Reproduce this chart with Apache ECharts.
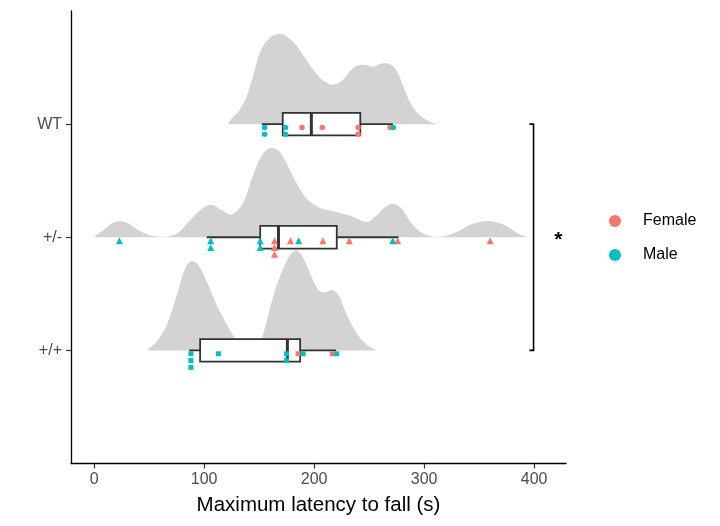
<!DOCTYPE html>
<html><head><meta charset="utf-8">
<script src="https://cdn.jsdelivr.net/npm/echarts@6/dist/echarts.min.js"></script>
<style>html,body{margin:0;padding:0;background:#fff}#c{width:720px;height:526px}</style>
</head><body><div id="c"></div>
<script>
// ---------- data ----------
const categories = ['+/+', '+/-', 'WT'];          // y = 1, 2, 3
const xTicks = [0, 100, 200, 300, 400];
const legendNames = ['Female', 'Male'];

// points (maximum latency to fall, s)
const femaleWT  = [189, 207.5, 240, 240, 269];
const maleWT    = [155, 155, 174, 174, 272];
const femaleHet = [164, 164, 164, 178.5, 208, 232, 276, 360];
const maleHet   = [23, 106, 106, 151, 151, 186, 271.5];
const femaleHom = [185.5, 216.5];
const maleHom   = [88, 88, 88, 113, 175, 175, 190, 220.5];

// box statistics [lower whisker, Q1, median, Q3, upper whisker]
const boxWT  = [152.5, 171.5, 197.5, 242, 271.5];
const boxHet = [102.4, 151, 167.6, 220.6, 276.7];
const boxHom = [86.4, 96.4, 175.7, 187.3, 220];

// density outlines [x, height in category units]
const densWT = [[122,0.01],[126.4,0.062],[132.7,0.132],[138.8,0.249],[144.5,0.426],[150.9,0.634],[157,0.734],[162.7,0.784],[169.1,0.796],[175.2,0.773],[184.3,0.69],[193.4,0.558],[202.5,0.441],[210,0.373],[217.3,0.35],[225.2,0.381],[232.7,0.47],[240,0.52],[247.9,0.52],[253.6,0.508],[261.5,0.535],[269.1,0.529],[275.2,0.47],[280.9,0.337],[287.3,0.194],[296.4,0.073],[305.5,0.02],[311.5,0]];
const densHet = [[1,0.01],[8.5,0.062],[16.1,0.121],[23,0.144],[31.2,0.121],[40.3,0.062],[50.9,0.018],[63,0.005],[75.2,0.032],[87.3,0.15],[97.9,0.253],[107,0.288],[116,0.238],[125.2,0.2],[135.8,0.311],[143.4,0.517],[150.9,0.693],[157,0.775],[162.4,0.79],[169.1,0.752],[176.7,0.619],[184.3,0.473],[193.3,0.341],[205.5,0.258],[220.6,0.223],[235.7,0.179],[247.9,0.135],[257,0.194],[264.5,0.267],[272.1,0.297],[279.7,0.253],[288.8,0.121],[299.4,0.032],[314.5,0.005],[329.7,0.047],[344.8,0.121],[359.4,0.144],[373.6,0.106],[385.7,0.032],[394.8,0]];
const densHom = [[47.9,0],[57,0.078],[66.1,0.225],[75.2,0.489],[82.7,0.724],[88.8,0.789],[94.8,0.753],[102.5,0.606],[110,0.43],[117.5,0.284],[125.2,0.152],[132.7,0.048],[141.8,0.005],[147.9,0.03],[152.4,0.107],[157,0.26],[163,0.48],[170.6,0.694],[178.2,0.841],[183.3,0.885],[188.8,0.841],[196.4,0.68],[203.9,0.533],[210,0.513],[216.1,0.533],[222.1,0.489],[229.7,0.313],[238.8,0.152],[247.9,0.048],[257,0]];

// ---------- build ----------
const FONT = "'Liberation Sans', Arial, Helvetica, sans-serif";
const COL_F = '#F8766D', COL_M = '#00BFC4';
const groups = [
  { y: 1, female: femaleHom, male: maleHom, box: boxHom, dens: densHom, symbol: 'rect',     size: 5 },
  { y: 2, female: femaleHet, male: maleHet, box: boxHet, dens: densHet, symbol: 'triangle', size: 7 },
  { y: 3, female: femaleWT,  male: maleWT,  box: boxWT,  dens: densWT,  symbol: 'circle',   size: 5.5 }
];

const femalePts = [], malePts = [];
groups.forEach(g => {
  const all = [];
  g.female.forEach(v => all.push({ v, sex: 'f' }));
  g.male.forEach(v => all.push({ v, sex: 'm' }));
  all.sort((a, b) => a.v - b.v);
  const counts = {};
  all.forEach(p => {
    const k = p.v.toFixed(1);
    const r = counts[k] || 0; counts[k] = r + 1;
    const item = { value: [p.v, g.y - 0.03 - r * 0.06], symbol: g.symbol, symbolSize: g.size };
    (p.sex === 'f' ? femalePts : malePts).push(item);
  });
});

const chart = echarts.init(document.getElementById('c'), null, { renderer: 'canvas' });
chart.setOption({
  animation: false,
  backgroundColor: '#fff',
  grid: { left: 71, right: 154, top: 11, bottom: 62.5, containLabel: false, outerBoundsMode: 'none' },
  legend: {
    data: legendNames, orient: 'vertical', left: 604, top: 208,
    itemWidth: 12, itemHeight: 12, itemGap: 18, icon: 'circle',
    textStyle: { fontFamily: FONT, fontSize: 16, color: '#000', padding: [0, 0, 0, 17] }
  },
  xAxis: {
    type: 'value', min: -21, max: 429,
    axisLine: { show: true, onZero: false, lineStyle: { color: '#000', width: 1.3 } },
    axisTick: { show: true, length: 5, customValues: xTicks, lineStyle: { color: '#333', width: 1.2 } },
    axisLabel: { customValues: xTicks, fontFamily: FONT, fontSize: 16, color: '#4d4d4d', margin: 8 },
    splitLine: { show: false },
    name: 'Maximum latency to fall (s)', nameLocation: 'middle', nameGap: 31,
    nameTextStyle: { fontFamily: FONT, fontSize: 20.5, color: '#000' }
  },
  yAxis: {
    type: 'value', min: 0, max: 4,
    axisLine: { show: true, onZero: false, lineStyle: { color: '#000', width: 1.3 } },
    axisTick: { show: true, length: 5, customValues: [1, 2, 3], lineStyle: { color: '#333', width: 1.2 } },
    axisLabel: { customValues: [1, 2, 3], formatter: v => categories[Math.round(v) - 1], fontFamily: FONT, fontSize: 16, color: '#4d4d4d', margin: 9 },
    splitLine: { show: false }
  },
  series: [
    {
      type: 'custom', name: 'density', silent: true, z: 1,
      data: groups.map(g => [g.dens[0][0], g.y]),
      encode: { x: 0, y: 1 },
      renderItem: (params, api) => {
        const g = groups[params.dataIndex];
        const pts = [api.coord([g.dens[0][0], g.y])];
        g.dens.forEach(d => pts.push(api.coord([d[0], g.y + d[1]])));
        pts.push(api.coord([g.dens[g.dens.length - 1][0], g.y]));
        let x0 = Infinity, y0 = Infinity, x1 = -Infinity, y1 = -Infinity;
        pts.forEach(p => { x0 = Math.min(x0, p[0]); y0 = Math.min(y0, p[1]); x1 = Math.max(x1, p[0]); y1 = Math.max(y1, p[1]); });
        return { type: 'polygon', shape: { points: pts, smooth: 0.35, smoothConstraint: [[x0, y0], [x1, y1]] }, style: { fill: '#d3d3d3' } };
      }
    },
    {
      type: 'custom', name: 'box', silent: true, z: 2,
      data: groups.map(g => [g.box[2], g.y]),
      encode: { x: 0, y: 1 },
      renderItem: (params, api) => {
        const g = groups[params.dataIndex], b = g.box;
        const c = b.map(v => api.coord([v, g.y]));
        const hh = api.size([0, 0.1])[1];
        const st = { stroke: '#333', lineWidth: 1.8, fill: null };
        return { type: 'group', children: [
          { type: 'line', shape: { x1: c[0][0], y1: c[0][1], x2: c[1][0], y2: c[1][1] }, style: st },
          { type: 'line', shape: { x1: c[3][0], y1: c[3][1], x2: c[4][0], y2: c[4][1] }, style: st },
          { type: 'rect', shape: { x: c[1][0], y: c[1][1] - hh, width: c[3][0] - c[1][0], height: 2 * hh }, style: { fill: '#fff', stroke: '#333', lineWidth: 1.8 } },
          { type: 'line', shape: { x1: c[2][0], y1: c[2][1] - hh, x2: c[2][0], y2: c[2][1] + hh }, style: { stroke: '#333', lineWidth: 3 } }
        ]};
      }
    },
    {
      type: 'scatter', name: 'Female', z: 3, data: femalePts,
      itemStyle: { color: COL_F, opacity: 1 }
    },
    {
      type: 'scatter', name: 'Male', z: 3, data: malePts,
      itemStyle: { color: COL_M, opacity: 1 }
    },
    {
      type: 'custom', name: 'signif', silent: true, z: 4,
      data: [[399.5, 2]],
      encode: { x: 0, y: 1 },
      renderItem: (params, api) => {
        const top = api.coord([399.5, 3]), bot = api.coord([399.5, 1]);
        const ftT = api.coord([395.7, 3]), ftB = api.coord([395.7, 1]);
        const star = api.coord([422, 2]);
        const st = { stroke: '#000', lineWidth: 1.6, fill: null };
        return { type: 'group', children: [
          { type: 'polyline', shape: { points: [ftT, top, bot, ftB] }, style: st },
          { type: 'text', x: star[0], y: star[1] + 3, style: { text: '*', fontFamily: FONT, fontSize: 21, fontWeight: 'bold', fill: '#000', align: 'center', verticalAlign: 'middle' } }
        ]};
      }
    }
  ]
});
</script>
</body></html>
